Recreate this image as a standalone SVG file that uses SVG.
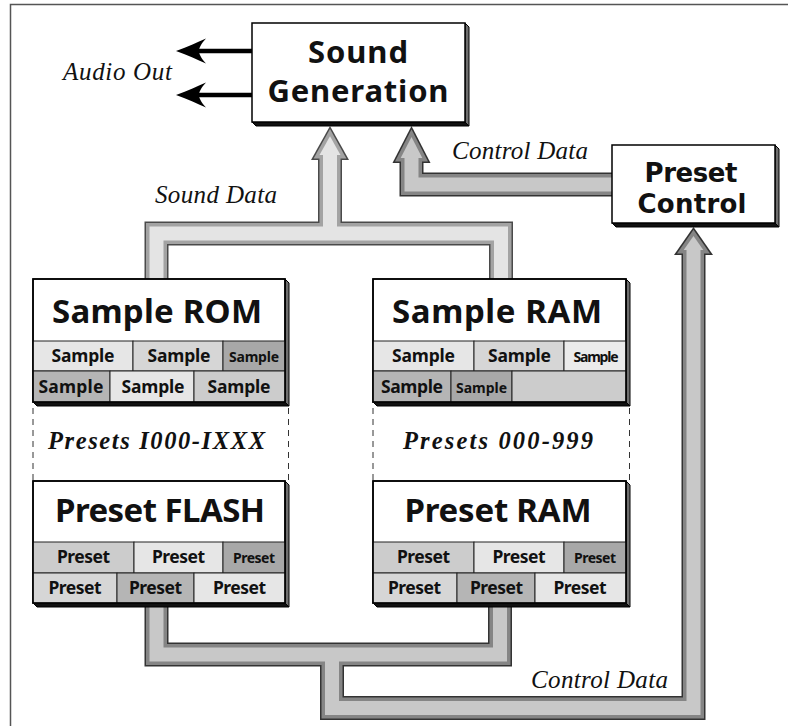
<svg xmlns="http://www.w3.org/2000/svg" width="788" height="726" viewBox="0 0 788 726">
<style>
.frame{fill:none;stroke:#555;stroke-width:1.5}
.box{fill:#fff;stroke:#000;stroke-width:1.5}
.side{fill:#6e6e6e;stroke:#000;stroke-width:1;stroke-linejoin:round}
.bot{fill:#111;stroke:#000;stroke-width:1;stroke-linejoin:round}
.cell{stroke:#222;stroke-width:1}
.c1{fill:#e6e6e6}.c2{fill:#d6d6d6}.c3{fill:#a8a8a8}.c4{fill:#b5b5b5}.c5{fill:#cccccc}.c6{fill:#ebebeb}
.sans{font-family:"Noto Sans","Open Sans","DejaVu Sans",sans-serif;font-weight:700;fill:#111;text-anchor:middle}
.big{font-size:31px}
.pc{font-family:"DejaVu Sans","Noto Sans",sans-serif;font-size:26px}
.title{font-size:33px}
.cl{font-size:17.5px}
.cs{font-size:14px}
.it{font-family:"Liberation Serif","Times New Roman",serif;font-style:italic;font-size:25px;fill:#111}
.bi{font-family:"Liberation Serif","Times New Roman",serif;font-style:italic;font-weight:700;font-size:24.5px;fill:#111;text-anchor:middle}
.dash{stroke:#333;stroke-width:1;stroke-dasharray:6 5;fill:none}
.pd{fill:none;stroke-linejoin:miter;stroke-linecap:butt}
.sdk{stroke:#4a4a4a;stroke-width:24}.sbd{stroke:#a3a3a3;stroke-width:21}.slt{stroke:#e4e4e4;stroke-width:14}
.cdk{stroke:#333;stroke-width:24}.cbd{stroke:#858585;stroke-width:21}.clt{stroke:#c8c8c8;stroke-width:14}
.fsdk{fill:#4a4a4a}.fsbd{fill:#a3a3a3}.fslt{fill:#e4e4e4}
.fcdk{fill:#333}.fcbd{fill:#858585}.fclt{fill:#c8c8c8}
</style>

<rect class="frame" x="10.5" y="4.5" width="800" height="800"/>

<g id="connectors">
  <g id="audio-out">
    <line x1="198" y1="51" x2="253" y2="51" stroke="#000" stroke-width="4.3"/>
    <path d="M176,51 C188,47 198,42 206,38.5 C201,44 199,48 199,51 C199,54 201,58 206,63.5 C198,60 188,55 176,51 Z" fill="#000"/>
    <line x1="198" y1="95" x2="253" y2="95" stroke="#000" stroke-width="4.3"/>
    <path d="M176,95 C188,91 198,86 206,82.5 C201,88 199,92 199,95 C199,98 201,102 206,107.5 C198,104 188,99 176,95 Z" fill="#000"/>
  </g>
  <g id="sound-data-bus">
    <path class="pd sdk" d="M156.5,286 V233.5 H501 V286 M330,233.5 V158"/>
    <polygon class="fsdk" points="330,126 349,160 311,160"/>
    <path class="pd sbd" d="M156.5,286 V233.5 H501 V286 M330,233.5 V156.5"/>
    <polygon class="fsbd" points="330,129.1 346.4,158.5 313.6,158.5"/>
    <path class="pd slt" d="M156.5,286 V233.5 H501 V286 M330,233.5 V153"/>
    <polygon class="fslt" points="330,136.3 340.5,155 319.5,155"/>
  </g>
  <g id="control-bus-top">
    <path class="pd cdk" d="M616,184.5 H411.5 V161"/>
    <polygon class="fcdk" points="411.5,126 430.5,163 392.5,163"/>
    <path class="pd cbd" d="M616,184.5 H411.5 V159.5"/>
    <polygon class="fcbd" points="411.5,129.3 428,161.5 395,161.5"/>
    <path class="pd clt" d="M616,184.5 H411.5 V156"/>
    <polygon class="fclt" points="411.5,137 422.3,158 400.7,158"/>
  </g>
  <g id="control-bus-bottom">
    <path class="pd cdk" d="M156.5,600 V654.5 H500 V600 M332,654.5 V708 H693.5 V253"/>
    <polygon class="fcdk" points="693.5,227 713,255 674,255"/>
    <path class="pd cbd" d="M156.5,600 V654.5 H500 V600 M332,654.5 V708 H693.5 V251.5"/>
    <polygon class="fcbd" points="693.5,229.7 710,253.5 677,253.5"/>
    <path class="pd clt" d="M156.5,600 V654.5 H500 V600 M332,654.5 V708 H693.5 V248"/>
    <polygon class="fclt" points="693.5,235.9 703.3,250 683.7,250"/>
  </g>
</g>

<g id="sound-generation">
  <polygon class="side" points="465,23 469,27 469,126 465,122"/>
  <polygon class="bot" points="252,122 465,122 469,126 256,126"/>
  <rect class="box" x="252" y="23" width="213" height="99"/>
  <text class="sans big" x="358" y="63" textLength="100" lengthAdjust="spacing">Sound</text>
  <text class="sans big" x="358" y="102" textLength="181" lengthAdjust="spacing">Generation</text>
</g>

<g id="preset-control">
  <polygon class="side" points="775,145 779,149 779,227 775,223"/>
  <polygon class="bot" points="612,223 775,223 779,227 616,227"/>
  <rect class="box" x="612" y="145" width="163" height="78"/>
  <text class="sans pc" x="691" y="182" textLength="93" lengthAdjust="spacing">Preset</text>
  <text class="sans pc" x="692" y="213" textLength="109" lengthAdjust="spacing">Control</text>
</g>

<g id="sample-rom">
  <polygon class="side" points="285,279 289,283 289,406 285,402"/>
  <polygon class="bot" points="33,402 285,402 289,406 37,406"/>
  <rect class="box" x="33" y="279" width="252" height="123"/>
  <rect class="cell c1" x="33" y="341" width="100" height="30"/>
  <rect class="cell c2" x="133" y="341" width="90" height="30"/>
  <rect class="cell c3" x="223" y="341" width="62" height="30"/>
  <rect class="cell c4" x="33" y="371" width="77" height="31"/>
  <rect class="cell c1" x="110" y="371" width="84" height="31"/>
  <rect class="cell c5" x="194" y="371" width="91" height="31"/>
  <rect x="33" y="279" width="252" height="123" fill="none" stroke="#000" stroke-width="1.5"/>
  <text class="sans title" x="157" y="323" textLength="210" lengthAdjust="spacing">Sample ROM</text>
  <text class="sans cl" x="83" y="362" textLength="63" lengthAdjust="spacing">Sample</text>
  <text class="sans cl" x="179" y="362" textLength="63" lengthAdjust="spacing">Sample</text>
  <text class="sans cs" x="254" y="362" textLength="50" lengthAdjust="spacing">Sample</text>
  <text class="sans cl" x="71" y="393" textLength="65" lengthAdjust="spacing">Sample</text>
  <text class="sans cl" x="153" y="393" textLength="63" lengthAdjust="spacing">Sample</text>
  <text class="sans cl" x="239" y="393" textLength="63" lengthAdjust="spacing">Sample</text>
</g>

<g id="sample-ram">
  <polygon class="side" points="626,279 630,283 630,406 626,402"/>
  <polygon class="bot" points="373,402 626,402 630,406 377,406"/>
  <rect class="box" x="373" y="279" width="253" height="123"/>
  <rect class="cell c1" x="373" y="341" width="101" height="30"/>
  <rect class="cell c2" x="474" y="341" width="90" height="30"/>
  <rect class="cell c6" x="564" y="341" width="62" height="30"/>
  <rect class="cell c4" x="373" y="371" width="78" height="31"/>
  <rect class="cell c3" x="451" y="371" width="61" height="31"/>
  <rect class="cell c5" x="512" y="371" width="114" height="31"/>
  <rect x="373" y="279" width="253" height="123" fill="none" stroke="#000" stroke-width="1.5"/>
  <text class="sans title" x="497" y="323" textLength="210" lengthAdjust="spacing">Sample RAM</text>
  <text class="sans cl" x="423.5" y="362" textLength="63" lengthAdjust="spacing">Sample</text>
  <text class="sans cl" x="519.5" y="362" textLength="63" lengthAdjust="spacing">Sample</text>
  <text class="sans cs" x="596" y="362" textLength="45" lengthAdjust="spacing">Sample</text>
  <text class="sans cl" x="412" y="393" textLength="62" lengthAdjust="spacing">Sample</text>
  <text class="sans cs" x="481.5" y="393" textLength="51" lengthAdjust="spacing">Sample</text>
</g>

<g id="presets-flash-label">
  <line class="dash" x1="33" y1="408" x2="33" y2="481"/>
  <line class="dash" x1="288.5" y1="408" x2="288.5" y2="481"/>
  <text class="bi" x="156.5" y="449" textLength="217" lengthAdjust="spacing">Presets I000-IXXX</text>
</g>

<g id="presets-ram-label">
  <line class="dash" x1="373" y1="408" x2="373" y2="481"/>
  <line class="dash" x1="629.5" y1="408" x2="629.5" y2="481"/>
  <text class="bi" x="498" y="449" textLength="190" lengthAdjust="spacing">Presets 000-999</text>
</g>

<g id="preset-flash">
  <polygon class="side" points="285,481 289,485 289,607 285,603"/>
  <polygon class="bot" points="33,603 285,603 289,607 37,607"/>
  <rect class="box" x="33" y="481" width="252" height="122"/>
  <rect class="cell c5" x="33" y="542" width="101" height="31"/>
  <rect class="cell c1" x="134" y="542" width="89" height="31"/>
  <rect class="cell c3" x="223" y="542" width="62" height="31"/>
  <rect class="cell c2" x="33" y="573" width="84" height="30"/>
  <rect class="cell c4" x="117" y="573" width="77" height="30"/>
  <rect class="cell c1" x="194" y="573" width="91" height="30"/>
  <rect x="33" y="481" width="252" height="122" fill="none" stroke="#000" stroke-width="1.5"/>
  <text class="sans title" x="160" y="522" textLength="210" lengthAdjust="spacing">Preset FLASH</text>
  <text class="sans cl" x="83.5" y="563" textLength="53" lengthAdjust="spacing">Preset</text>
  <text class="sans cl" x="178.5" y="563" textLength="53" lengthAdjust="spacing">Preset</text>
  <text class="sans cs" x="254" y="563" textLength="42" lengthAdjust="spacing">Preset</text>
  <text class="sans cl" x="75" y="594" textLength="53" lengthAdjust="spacing">Preset</text>
  <text class="sans cl" x="155.5" y="594" textLength="53" lengthAdjust="spacing">Preset</text>
  <text class="sans cl" x="239.5" y="594" textLength="53" lengthAdjust="spacing">Preset</text>
</g>

<g id="preset-ram">
  <polygon class="side" points="626,481 630,485 630,607 626,603"/>
  <polygon class="bot" points="373,603 626,603 630,607 377,607"/>
  <rect class="box" x="373" y="481" width="253" height="122"/>
  <rect class="cell c5" x="373" y="542" width="101" height="31"/>
  <rect class="cell c1" x="474" y="542" width="90" height="31"/>
  <rect class="cell c3" x="564" y="542" width="62" height="31"/>
  <rect class="cell c2" x="373" y="573" width="84" height="30"/>
  <rect class="cell c4" x="457" y="573" width="78" height="30"/>
  <rect class="cell c1" x="535" y="573" width="91" height="30"/>
  <rect x="373" y="481" width="253" height="122" fill="none" stroke="#000" stroke-width="1.5"/>
  <text class="sans title" x="498" y="522" textLength="187" lengthAdjust="spacing">Preset RAM</text>
  <text class="sans cl" x="423.5" y="563" textLength="53" lengthAdjust="spacing">Preset</text>
  <text class="sans cl" x="519" y="563" textLength="53" lengthAdjust="spacing">Preset</text>
  <text class="sans cs" x="595" y="563" textLength="42" lengthAdjust="spacing">Preset</text>
  <text class="sans cl" x="414.5" y="594" textLength="53" lengthAdjust="spacing">Preset</text>
  <text class="sans cl" x="496.5" y="594" textLength="53" lengthAdjust="spacing">Preset</text>
  <text class="sans cl" x="580" y="594" textLength="53" lengthAdjust="spacing">Preset</text>
</g>

<g id="labels">
  <text class="it" x="63" y="80" textLength="109" lengthAdjust="spacing">Audio Out</text>
  <text class="it" x="155" y="203" textLength="122" lengthAdjust="spacing">Sound Data</text>
  <text class="it" x="452" y="159" textLength="136" lengthAdjust="spacing">Control Data</text>
  <text class="it" x="531" y="688" textLength="137" lengthAdjust="spacing">Control Data</text>
</g>
</svg>
